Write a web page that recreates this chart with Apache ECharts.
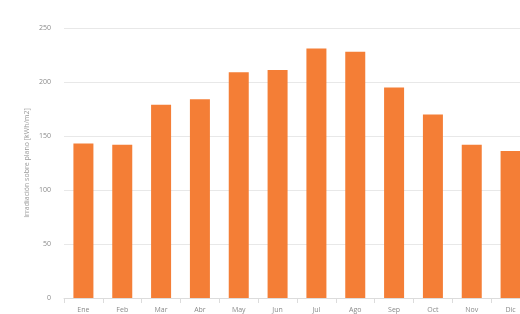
<!DOCTYPE html>
<html>
<head>
<meta charset="utf-8">
<script src="https://cdn.jsdelivr.net/npm/echarts@6/dist/echarts.min.js"></script>
<style>
  html, body { margin: 0; padding: 0; background: #fff; overflow: hidden; }
  /* el grafico original esta recortado a la derecha */
  #chart { width: 530px; height: 314px; }
</style>
</head>
<body>
<div id="chart"></div>
<script>
// meses y valores de irradiacion
const meses = ['Ene', 'Feb', 'Mar', 'Abr', 'May', 'Jun', 'Jul', 'Ago', 'Sep', 'Oct', 'Nov', 'Dic'];
const irradiacion = [143, 142, 179, 184, 209, 211, 231, 228, 195, 170, 142, 136];
const ticksY = [0, 50, 100, 150, 200, 250];

const chart = echarts.init(document.getElementById('chart'));
chart.setOption({
  animation: false,
  grid: {
    left: 64,
    right: 0,
    top: 28,
    bottom: 16
  },
  xAxis: {
    type: 'category',
    data: meses,
    axisLine: { lineStyle: { color: '#dcdcdc' } },
    axisTick: { show: true, lineStyle: { color: '#dcdcdc' } },
    axisLabel: { color: '#8a8a8a', fontSize: 7, margin: 8, fontFamily: 'Open Sans' }
  },
  yAxis: {
    type: 'value',
    min: ticksY[0],
    max: ticksY[ticksY.length - 1],
    interval: 50,
    name: 'Irradiación sobre plano [kWh/m2]',
    nameLocation: 'middle',
    nameGap: 34,
    nameMoveOverlap: false,
    nameTextStyle: { color: '#9a9a9a', fontSize: 7, fontFamily: 'Open Sans' },
    axisLabel: { color: '#8a8a8a', fontSize: 7, margin: 13, fontFamily: 'Open Sans' },
    splitLine: { lineStyle: { color: '#e8e8e8' } }
  },
  series: [
    {
      type: 'bar',
      data: irradiacion,
      barWidth: 20,
      itemStyle: { color: '#F47E36' }
    }
  ]
});
</script>
</body>
</html>
